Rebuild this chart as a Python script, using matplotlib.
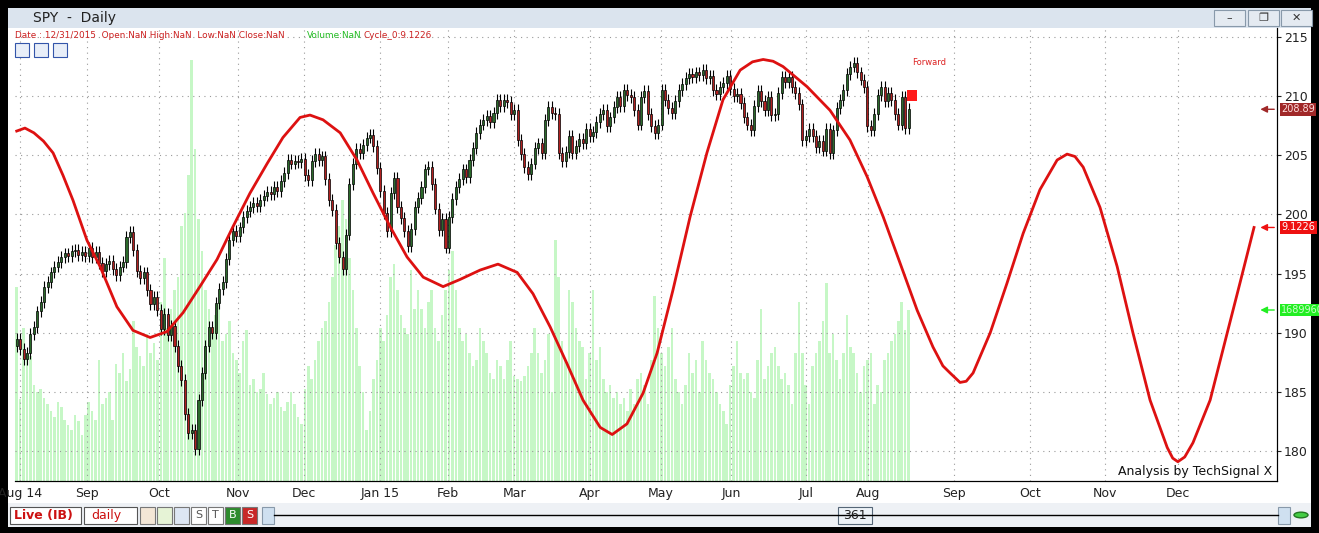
import numpy as np
import matplotlib
matplotlib.use("Agg")
import matplotlib.pyplot as plt
from matplotlib.patches import Rectangle

# daily closes, Aug 2014 .. Aug 2015 (bar index = trading day)
closes = (
    [189.5, 188.6, 187.8, 188.3, 189.9, 190.5, 191.8, 192.6, 193.9, 194.3, 195.1, 195.6, 196.0, 196.4, 196.7, 196.5, 196.9, 197.0, 196.6, 196.8, 196.5]
    + [197.2, 196.4, 196.8, 195.9, 195.2, 195.8, 196.1, 195.4, 194.9, 195.6, 196.0, 198.1, 198.5, 197.0, 195.2, 194.6, 195.1, 193.6, 192.4, 193.0, 191.9]
    + [190.3, 191.6, 189.8, 190.6, 188.9, 187.2, 186.0, 183.1, 181.5, 181.8, 180.2, 184.3, 186.6, 188.9, 190.5, 190.0, 192.5, 193.7, 194.3, 196.2, 197.8, 198.6, 198.2]
    + [198.9, 199.8, 200.3, 200.6, 201.0, 200.7, 201.2, 201.6, 201.9, 201.7, 202.3, 202.0, 202.8, 203.5, 204.6, 204.3, 204.5, 204.4, 204.7]
    + [203.3, 202.9, 204.5, 205.1, 204.6, 204.9, 203.0, 201.2, 200.4, 197.6, 196.4, 195.4, 198.3, 202.6, 204.3, 205.5, 205.2, 205.9, 206.5, 206.7, 205.8, 203.9]
    + [202.0, 200.1, 198.6, 201.8, 203.1, 200.6, 199.7, 198.6, 197.3, 198.8, 200.6, 201.4, 202.3, 203.8, 204.0, 202.6, 200.5, 198.7, 199.6, 197.2]
    + [199.8, 201.3, 202.3, 203.0, 203.8, 203.2, 204.6, 205.6, 206.9, 207.6, 208.0, 208.3, 207.8, 208.6, 209.7, 209.2, 209.7, 209.5, 208.5]
    + [208.8, 206.3, 205.1, 204.0, 203.4, 204.3, 205.6, 206.0, 205.2, 208.0, 209.1, 208.6, 208.5, 205.2, 204.5, 205.3, 206.6, 205.2, 205.8, 206.4, 206.0, 207.2]
    + [206.6, 207.0, 207.8, 208.5, 208.8, 207.5, 208.2, 209.1, 209.9, 209.2, 210.5, 210.1, 209.9, 208.8, 207.6, 209.9, 210.4, 208.5, 207.5, 206.9, 207.6]
    + [210.5, 209.7, 209.0, 208.6, 209.6, 210.5, 211.0, 211.5, 211.9, 211.6, 212.0, 211.8, 212.2, 211.5, 211.7, 210.5, 210.2, 210.8, 211.1, 211.7, 210.6]
    + [210.0, 210.2, 209.4, 208.2, 207.6, 207.1, 209.2, 210.4, 209.6, 208.8, 209.9, 208.4, 208.5, 210.3, 211.6, 211.2, 211.6, 210.8, 210.3, 209.3, 206.3, 206.6]
    + [207.2, 206.6, 205.7, 206.2, 205.4, 207.2, 205.2, 207.1, 209.0, 209.7, 210.5, 211.9, 212.5, 212.8, 212.0, 211.4, 210.8, 207.5, 207.1, 208.5, 210.1]
    + [210.8, 209.6, 210.3, 209.7, 208.5, 207.6, 209.9, 207.3, 208.89]
)

# volume in millions
volumes = (
    [152, 64, 120, 100, 98, 75, 70, 72, 65, 60, 55, 50, 62, 58, 48, 44, 40, 52, 47, 36, 52]
    + [62, 55, 48, 95, 60, 65, 70, 48, 92, 85, 100, 78, 88, 125, 105, 98, 90, 115, 100, 108, 95]
    + [140, 175, 120, 135, 150, 160, 200, 210, 240, 330, 260, 205, 180, 150, 135, 120, 130, 140, 110, 115, 125, 100, 95]
    + [85, 110, 118, 75, 80, 70, 72, 85, 68, 60, 65, 70, 58, 55, 62, 70, 60, 50, 45]
    + [72, 90, 80, 95, 110, 120, 125, 140, 160, 185, 200, 220, 205, 175, 150, 120, 90, 70, 40, 55, 80, 95]
    + [120, 110, 130, 160, 170, 150, 130, 120, 115, 165, 135, 150, 135, 120, 140, 150, 120, 110, 130, 150]
    + [165, 180, 150, 120, 110, 115, 100, 90, 95, 120, 110, 100, 85, 80, 95, 90, 80, 95, 110]
    + [82, 80, 78, 82, 90, 100, 120, 100, 85, 95, 115, 70, 189, 160, 110, 95, 150, 140, 120, 110, 105, 80]
    + [100, 150, 95, 105, 80, 70, 75, 65, 70, 60, 65, 55, 72, 60, 80, 85, 75, 60, 95, 145, 120]
    + [100, 90, 105, 120, 80, 70, 60, 75, 100, 85, 95, 70, 110, 95, 85, 80, 70, 60, 55, 45, 75]
    + [90, 110, 85, 80, 85, 70, 65, 95, 135, 80, 90, 100, 105, 90, 80, 85, 75, 60, 100, 140, 100, 75]
    + [60, 90, 100, 110, 125, 155, 100, 115, 95, 80, 100, 130, 105, 100, 85, 70, 90, 95, 100, 60, 75]
    + [70, 95, 100, 110, 115, 125, 140, 118, 134]
)

# cycle projection (bar, value)
cycle_x = [0, 2.4, 5, 7.8, 10.6, 13.5, 16.4, 20.5, 24.3, 29.2, 33.9, 38.9, 43.8, 48.5, 53.4, 58.4, 63.1, 68, 73, 77.6,
           82.6, 85.5, 89.3, 94.3, 99.2, 103.9, 108.8, 113.8, 118.5, 124.3, 129.2, 135.1, 140.3, 145.9, 150.5, 155.5,
           160.4, 165.1, 170.1, 173.6, 177.9, 182.6, 186.7, 191.3, 196.3, 201.2, 205.9, 210.9, 214.5, 217.6, 220.5,
           223.4, 230.4, 237.1, 242.9, 247.9, 252.6, 257.5, 262.5, 267.1, 270, 272.1, 275, 276.8, 278.8, 283.8, 288.7,
           293.4, 298.3, 303.3, 306.2, 308.5, 310.9, 315.8, 320.8, 325.4, 330.4, 335.4, 337, 338.5, 340.5, 342.9,
           347.9, 352.9, 356.6, 360.7]
cycle_y = [207.05, 207.3, 206.9, 206.2, 205.2, 203.3, 201.2, 197.8, 195.6, 192.2, 190.2, 189.6, 190.1, 191.7, 193.9,
           196.2, 199.0, 201.8, 204.3, 206.5, 208.2, 208.4, 208.0, 206.9, 204.6, 201.8, 199.0, 196.4, 194.7, 193.9,
           194.5, 195.3, 195.8, 195.1, 193.3, 190.5, 187.4, 184.3, 182.0, 181.4, 182.3, 184.9, 188.3, 193.6, 199.8,
           205.2, 209.7, 212.2, 212.9, 213.1, 212.95, 212.5, 210.8, 208.8, 206.3, 203.2, 199.8, 195.9, 191.9, 188.8,
           187.2, 186.6, 185.8, 185.9, 186.6, 190.0, 194.2, 198.4, 202.1, 204.6, 205.1, 204.9, 204.0, 200.6, 195.6,
           190.0, 184.3, 180.3, 179.4, 179.1, 179.5, 180.7, 184.3, 190.0, 194.2, 198.9]

month_pos = [1, 20.5, 41.5, 64.5, 83.8, 105.9, 125.7, 145, 167.1, 187.8, 208.2, 230.1, 248.2, 273.3, 295.4, 317.3, 338.6]
month_labels = ["Aug 14", "Sep", "Oct", "Nov", "Dec", "Jan 15", "Feb", "Mar", "Apr", "May", "Jun", "Jul", "Aug",
                "Sep", "Oct", "Nov", "Dec"]
price_ticks = [180, 185, 190, 195, 200, 205, 210, 215]

W, H = 1319, 533
fig = plt.figure(figsize=(W / 100, H / 100), dpi=100)
fig.patch.set_facecolor("black")

def box(x0, y0, x1, y1, fc, ec="none", lw=0.8, z=0):
    fig.patches.append(Rectangle((x0 / W, 1 - y1 / H), (x1 - x0) / W, (y1 - y0) / H, transform=fig.transFigure,
                                 facecolor=fc, edgecolor=ec, lw=lw, zorder=z))

# window chrome
box(8, 8, 1311, 28, "#dbe4ee")
box(8, 28, 1311, 503, "white")
box(8, 503, 1311, 527, "#eef1f5")
fig.text(33 / W, 1 - 18 / H, "SPY  -  Daily", fontsize=10, color="#222222", va="center")
for bx, sym in [(1214, "\u2013"), (1248, "\u2750"), (1281, "\u2715")]:
    box(bx, 10, bx + 31, 26, "#e4eaf1", ec="#8899aa")
    fig.text((bx + 15.5) / W, 1 - 18 / H, sym, fontsize=8, ha="center", va="center", color="#333333")
fig.text(15 / W, 1 - 35.5 / H, "Date : 12/31/2015  Open:NaN High:NaN  Low:NaN Close:NaN", fontsize=6.4,
         color="#cc2222", va="center")
fig.text(307 / W, 1 - 35.5 / H, "Volume:NaN", fontsize=6.4, color="#22bb22", va="center")
fig.text(364 / W, 1 - 35.5 / H, "Cycle_0:9.1226", fontsize=6.4, color="#cc2222", va="center")
for k in range(3):
    box(15 + k * 19, 43, 29 + k * 19, 57, "#e8eef8", ec="#3355aa", z=5)

ax = fig.add_axes([15 / W, 1 - 481 / H, 1262 / W, 453 / H])
ax.set_xlim(-0.5, 367.4)
ax.set_ylim(177.47, 215.76)
axv = ax.twinx()
axv.set_ylim(0, 355)
axv.set_yticks([])
ax.set_zorder(2)
ax.patch.set_visible(False)
axv.set_zorder(1)

n = len(closes)
bars = np.arange(n)
axv.bar(bars, volumes, width=0.75, color="#c6f7c6", linewidth=0)

opens = [closes[0] - 0.6] + closes[:-1]
for i in range(n):
    o, c = opens[i], closes[i]
    hi = max(o, c) + 0.5
    lo = min(o, c) - 0.5
    col = "#2b6a2b" if c >= o else "#b02020"
    ax.vlines(i, lo, hi, color="black", lw=0.8, zorder=3)
    ax.add_patch(Rectangle((i - 0.3, min(o, c)), 0.6, max(abs(c - o), 0.08), facecolor=col, edgecolor="black",
                           lw=0.5, zorder=4))

ax.plot(cycle_x, cycle_y, color="#dd1111", lw=2, zorder=5, solid_joinstyle="round")

ax.set_xticks(month_pos)
ax.set_xticklabels(month_labels, fontsize=9, color="#222222")
ax.set_yticks(price_ticks)
ax.yaxis.tick_right()
ax.tick_params(axis="y", labelsize=9, colors="#222222", length=3, pad=2)
ax.tick_params(axis="x", length=0, pad=4)
ax.grid(True, color="#999999", ls=(0, (1, 4)), lw=0.8)
for s in ["top", "left"]:
    ax.spines[s].set_visible(False)
    axv.spines[s].set_visible(False)

# markers / labels
ax.add_patch(Rectangle((n - 1.5, 209.6), 3, 0.9, facecolor="#ff1a1a", edgecolor="none", zorder=6))
ax.text(n + 5, 212.6, "Forward", fontsize=6, color="#dd2222", ha="center")
ax.text(366, 178.0, "Analysis by TechSignal X", fontsize=9, ha="right", color="#111111")

def tag(yv, text, fc, tcol, trans):
    ax.annotate(text, xy=(1.0, yv), xycoords=trans, xytext=(3, 0), textcoords="offset points",
                fontsize=7, color=tcol, va="center", ha="left",
                bbox=dict(boxstyle="square,pad=0.15", fc=fc, ec="none"), annotation_clip=False, zorder=10)
    ax.annotate("", xy=(1.0, yv), xycoords=trans, xytext=(-14, 0), textcoords="offset points",
                arrowprops=dict(arrowstyle="<|-", color=fc, lw=1), annotation_clip=False)

tag(closes[-1], "208.89", "#a02828", "#ffdddd", ax.get_yaxis_transform())
tag(cycle_y[-1], "9.1226", "#ee1111", "white", ax.get_yaxis_transform())
tag(volumes[-1], "1689960", "#22ee22", "#ccffcc", axv.get_yaxis_transform())

# bottom toolbar
box(10, 507, 81, 524, "white", ec="#555555")
fig.text(14 / W, 1 - 515.5 / H, "Live (IB)", fontsize=9, color="#cc1111", weight="bold", va="center")
box(84, 507, 137, 524, "white", ec="#555555")
fig.text(91 / W, 1 - 515.5 / H, "daily", fontsize=9, color="#cc1111", va="center")
for k, (lab, fc, tc) in enumerate([("", "#f3e6d6", "k"), ("", "#e6f3d6", "k"), ("", "#dde6f3", "k"),
                                   ("S", "white", "#555555"), ("T", "white", "#555555"),
                                   ("B", "#2e8b2e", "white"), ("S", "#c82828", "white")]):
    x0 = 140 + k * 17
    box(x0, 507, x0 + 15, 524, fc, ec="#777777")
    fig.text((x0 + 7.5) / W, 1 - 515.5 / H, lab, fontsize=8, color=tc, ha="center", va="center")
box(262, 507, 274, 524, "#cfe0f0", ec="#8899aa")
fig.lines.append(plt.Line2D([274 / W, 1278 / W], [1 - 515 / H] * 2, transform=fig.transFigure, color="black", lw=1))
box(838, 507, 872, 524, "#eef3f8", ec="#556677")
fig.text(855 / W, 1 - 515.5 / H, "361", fontsize=9, ha="center", va="center", color="#222222")
box(1278, 507, 1290, 524, "#cfe0f0", ec="#8899aa")
fig.patches.append(plt.Circle((1301 / W, 1 - 515 / H), 7 / W, transform=fig.transFigure, facecolor="#44cc44",
                              edgecolor="#227722"))

fig.savefig("out.png", dpi=100, facecolor="black")
